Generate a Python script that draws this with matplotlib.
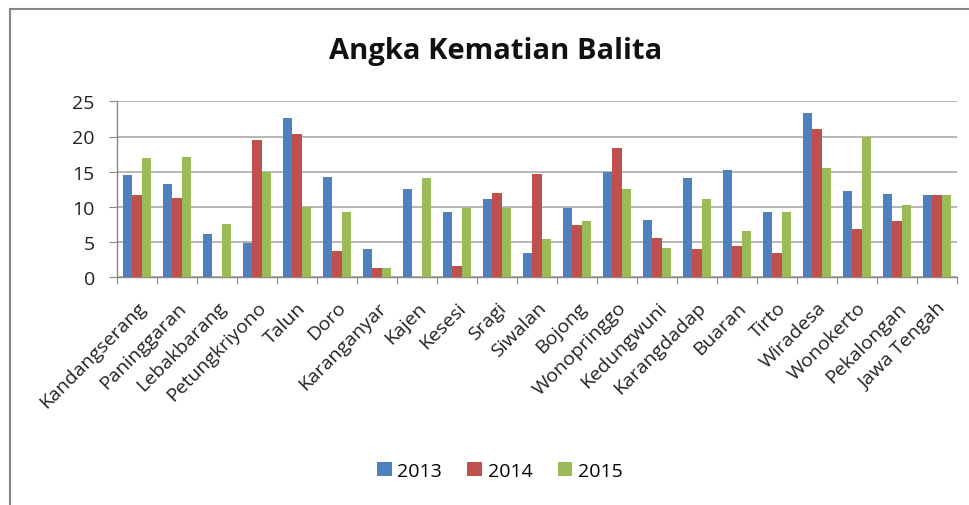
import matplotlib
matplotlib.use("Agg")
import matplotlib.pyplot as plt
import numpy as np
from matplotlib.patches import Rectangle

categories = ["Kandangserang", "Paninggaran", "Lebakbarang", "Petungkriyono", "Talun",
              "Doro", "Karanganyar", "Kajen", "Kesesi", "Sragi", "Siwalan", "Bojong",
              "Wonopringgo", "Kedungwuni", "Karangdadap", "Buaran", "Tirto", "Wiradesa",
              "Wonokerto", "Pekalongan", "Jawa Tengah"]
v2013 = [14.6, 13.3, 6.2, 4.9, 22.6, 14.2, 4.0, 12.6, 9.3, 11.1, 3.4, 9.9,
         15.0, 8.2, 14.1, 15.3, 9.3, 23.3, 12.2, 11.9, 11.7]
v2014 = [11.7, 11.3, 0.0, 19.5, 20.4, 3.7, 1.3, 0.0, 1.6, 12.0, 14.7, 7.4,
         18.3, 5.6, 4.0, 4.4, 3.4, 21.1, 6.9, 8.0, 11.7]
v2015 = [17.0, 17.1, 7.6, 15.0, 10.0, 9.3, 1.3, 14.1, 9.8, 9.9, 5.4, 8.0,
         12.6, 4.2, 11.1, 6.6, 9.3, 15.5, 20.0, 10.2, 11.7]
series_names = ["2013", "2014", "2015"]
colors = ["#4F81BD", "#C0504D", "#9BBB59"]
yticks = [0, 5, 10, 15, 20, 25]

plt.rcParams['font.family'] = ['Open Sans', 'DejaVu Sans']

W, H = 970, 506
fig = plt.figure(figsize=(W / 100, H / 100), dpi=100)
ax = fig.add_axes([117 / W, 1 - 278.3 / H, (957 - 117) / W, (278.3 - 102.3) / H])

x = np.arange(len(categories))
bw = 0.236
for i, (vals, c, name) in enumerate(zip([v2013, v2014, v2015], colors, series_names)):
    ax.bar(x + (i - 1) * bw, vals, width=bw, color=c, label=name, zorder=3)

ax.set_xlim(-0.5, len(categories) - 0.5)
ax.set_ylim(0, 25)
ax.set_yticks(yticks)
ax.set_yticklabels([str(t) for t in yticks], fontsize=14, color="#222222")
ax.yaxis.grid(True, color="#AAAAAA", linewidth=1.2, zorder=0)
ax.set_axisbelow(True)

ax.set_xticks(np.arange(len(categories) + 1) - 0.5, minor=False)
ax.set_xticklabels([])
ax.set_xticks(x, minor=True)
ax.set_xticklabels(categories, minor=True, rotation=45, ha="right",
                   rotation_mode="anchor", fontsize=14, color="#222222")
ax.tick_params(axis="x", which="minor", length=0, pad=15)
ax.tick_params(axis="x", which="major", length=5, color="#888888", direction="out")
ax.tick_params(axis="y", length=6, color="#888888", pad=10)

for s in ["top", "right"]:
    ax.spines[s].set_visible(False)
ax.spines["left"].set_color("#888888")
ax.spines["bottom"].set_color("#888888")
ax.spines["left"].set_linewidth(1.0)
ax.spines["bottom"].set_linewidth(1.0)

fig.text(496 / W, 1 - 52 / H, "Angka Kematian Balita", ha="center", va="center",
         fontsize=21, fontweight="bold", color="#111111")

handles, labels = ax.get_legend_handles_labels()
fig.legend(handles, labels, loc="center", bbox_to_anchor=(500 / W, 1 - 472 / H),
           ncol=3, frameon=False, fontsize=14, handlelength=0.75, handleheight=0.75,
           handletextpad=0.3, columnspacing=1.3)

# outer chart frame
fig.patches.append(Rectangle((10 / W, -0.05), 1.1, 1 - 10 / H + 0.05,
                             transform=fig.transFigure, fill=False,
                             edgecolor="#888888", linewidth=1.5, zorder=0))

fig.savefig("out.png", dpi=100)
